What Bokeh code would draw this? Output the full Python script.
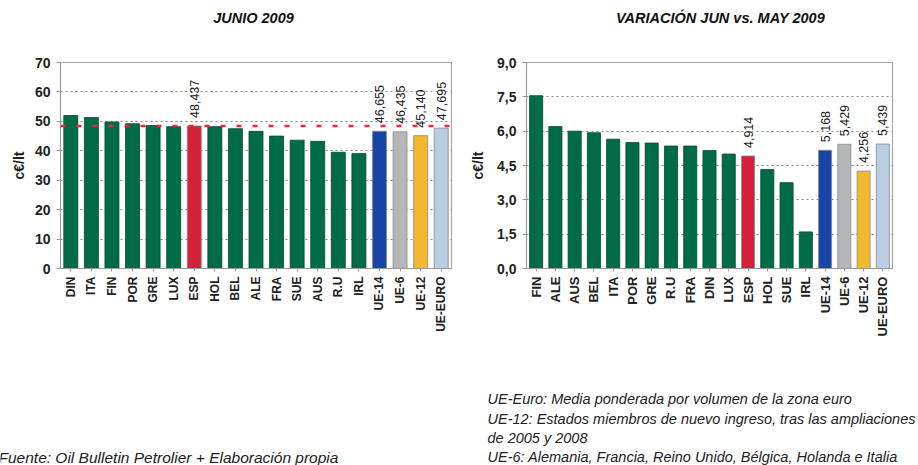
import math
from bokeh.plotting import figure
from bokeh.layouts import column, row
from bokeh.models import Span, ColumnDataSource, FixedTicker, CustomJSTickFormatter, LabelSet
from bokeh.core.properties import value
from bokeh.embed import file_html
from bokeh.resources import INLINE

# ---------------- data ----------------
cats_jun = ["DIN", "ITA", "FIN", "POR", "GRE", "LUX", "ESP", "HOL", "BEL", "ALE",
            "FRA", "SUE", "AUS", "R.U", "IRL", "UE-14", "UE-6", "UE-12", "UE-EURO"]
vals_jun = [52.0, 51.3, 49.8, 49.2, 48.6, 48.2, 48.437, 48.2, 47.5, 46.6,
            45.0, 43.6, 43.2, 39.5, 39.1, 46.655, 46.435, 45.140, 47.695]

cats_var = ["FIN", "ALE", "AUS", "BEL", "ITA", "POR", "GRE", "R.U", "FRA", "DIN",
            "LUX", "ESP", "HOL", "SUE", "IRL", "UE-14", "UE-6", "UE-12", "UE-EURO"]
vals_var = [7.55, 6.2, 6.0, 5.93, 5.65, 5.5, 5.48, 5.35, 5.35, 5.15,
            5.0, 4.914, 4.32, 3.75, 1.6, 5.168, 5.429, 4.256, 5.439]

labelled = ["ESP", "UE-14", "UE-6", "UE-12", "UE-EURO"]

title_jun = "JUNIO 2009"
title_var = "VARIACIÓN JUN vs. MAY 2009"
y_label = "c€/lt"
yticks_jun = [0, 10, 20, 30, 40, 50, 60, 70]
yticks_var = [0, 1.5, 3.0, 4.5, 6.0, 7.5, 9.0]

note_source = "Fuente: Oil Bulletin Petrolier + Elaboración propia"
notes = ["UE-Euro: Media ponderada por volumen de la zona euro",
         "UE-12: Estados miembros de nuevo ingreso, tras las ampliaciones",
         "de 2005 y 2008",
         "UE-6: Alemania, Francia, Reino Unido, Bélgica, Holanda e Italia"]

# ---------------- styles ----------------
GREEN = "#006b47"
special_colors = {"ESP": "#d5203a", "UE-14": "#1746a8", "UE-6": "#b4b6b8",
                  "UE-12": "#f2b92e", "UE-EURO": "#b9cde3"}
FONT = "Liberation Sans"
W = 918


def fmt(v):
    return ("%.3f" % v).replace(".", ",")


def make_chart(cats, vals, ticks, width, left, right, fh, top, bottom,
               xfont, comma_ticks, lab_standoff):
    colors = [special_colors.get(c, GREEN) for c in cats]
    lines = ["#004a30" if c not in special_colors else "#8a8a8a" for c in cats]
    texts = [fmt(v) if c in labelled else "" for c, v in zip(cats, vals)]
    src = ColumnDataSource(dict(cat=cats, val=vals, color=colors, lc=lines, txt=texts))
    p = figure(x_range=cats, y_range=(ticks[0], ticks[-1]), width=width, height=top + fh + bottom,
               output_backend="svg", toolbar_location=None,
               min_border_left=left, min_border_right=right,
               min_border_top=top, min_border_bottom=bottom)
    p.vbar(x="cat", top="val", width=0.68, source=src, fill_color="color",
           line_color="lc", line_width=0.8)

    p.xgrid.grid_line_color = None
    p.ygrid.grid_line_color = "#8a8a8a"
    p.ygrid.grid_line_dash = "2 3"
    p.ygrid.grid_line_width = 1
    p.yaxis.ticker = FixedTicker(ticks=ticks)
    if comma_ticks:
        p.yaxis.formatter = CustomJSTickFormatter(code="return tick.toFixed(1).replace('.', ',');")
    p.yaxis.major_label_text_font = FONT
    p.yaxis.major_label_text_font_style = "bold"
    p.yaxis.major_label_text_font_size = "14px"
    p.yaxis.major_label_text_color = "#222222"
    p.yaxis.axis_line_color = "#9a9a9a"
    p.yaxis.major_tick_line_color = "#9a9a9a"
    p.yaxis.major_tick_out = 4
    p.yaxis.major_tick_in = 0
    p.yaxis.minor_tick_line_color = None
    p.yaxis.major_label_standoff = 6
    p.yaxis.axis_label = y_label
    p.yaxis.axis_label_text_font = FONT
    p.yaxis.axis_label_text_font_style = "bold"
    p.yaxis.axis_label_text_font_size = "14px"
    p.yaxis.axis_label_text_color = "#222222"
    p.yaxis.axis_label_standoff = lab_standoff

    p.xaxis.major_label_orientation = math.pi / 2
    p.xaxis.major_label_text_font = FONT
    p.xaxis.major_label_text_font_style = "bold"
    p.xaxis.major_label_text_font_size = xfont
    p.xaxis.major_label_text_color = "#222222"
    p.xaxis.axis_line_color = "#9a9a9a"
    p.xaxis.major_tick_line_color = "#9a9a9a"
    p.xaxis.major_tick_out = 3
    p.xaxis.major_tick_in = 0
    p.xaxis.major_label_standoff = 5

    p.outline_line_color = "#a8a8a8"
    p.outline_line_width = 1.2
    p.background_fill_color = "white"
    p.border_fill_color = "white"

    p.add_layout(LabelSet(x="cat", y="val", text="txt", source=src, angle=math.pi / 2,
                          y_offset=8, text_align="left", text_baseline="middle",
                          text_font=value(FONT), text_font_size="12.5px",
                          text_color="#1a1a1a"))
    return p


# ---------------- titles ----------------
p0 = figure(width=W, height=52, x_range=(0, W), y_range=(0, 52),
            output_backend="svg", toolbar_location=None, x_axis_type=None, y_axis_type=None,
            min_border_left=0, min_border_right=0, min_border_top=0, min_border_bottom=0)
p0.outline_line_color = None
p0.xgrid.grid_line_color = None
p0.ygrid.grid_line_color = None
p0.text(x=[253, 720], y=[35, 35], text=[title_jun, title_var], text_font=value(FONT),
        text_font_style="bold italic", text_font_size="14.5px", text_color="#111111",
        text_align="center", text_baseline="middle")

# ---------------- charts ----------------
p1 = make_chart(cats_jun, vals_jun, yticks_jun, width=460, left=60, right=9,
                fh=206, top=10, bottom=77, xfont="12px", comma_ticks=False, lab_standoff=5)
esp_val = vals_jun[cats_jun.index("ESP")]
p1.add_layout(Span(location=esp_val, dimension="width", line_color="#e8283c",
                   line_dash="5 11", line_width=2.5))

p2 = make_chart(cats_var, vals_var, yticks_var, width=458, left=66, right=26,
                fh=206, top=10, bottom=77, xfont="13px", comma_ticks=True, lab_standoff=8)

# ---------------- notes ----------------
p3 = figure(width=W, height=120, x_range=(0, W), y_range=(0, 120),
            output_backend="svg", toolbar_location=None, x_axis_type=None, y_axis_type=None,
            min_border_left=0, min_border_right=0, min_border_top=0, min_border_bottom=0)
p3.outline_line_color = None
p3.xgrid.grid_line_color = None
p3.ygrid.grid_line_color = None
note_x = [487] * len(notes)
note_y = [67, 47, 28, 9]
p3.text(x=note_x, y=note_y, text=notes, text_font=value(FONT),
        text_font_style="italic", text_font_size="14.5px", text_color="#222222",
        text_baseline="middle", text_align="left")
p3.text(x=[-2], y=[8], text=[note_source], text_font=value(FONT),
        text_font_style="italic", text_font_size="15.5px", text_color="#222222",
        text_baseline="middle", text_align="left")

layout = column(p0, row(p1, p2, spacing=0), p3, spacing=0)
open("out.html", "w").write(file_html(layout, INLINE))
